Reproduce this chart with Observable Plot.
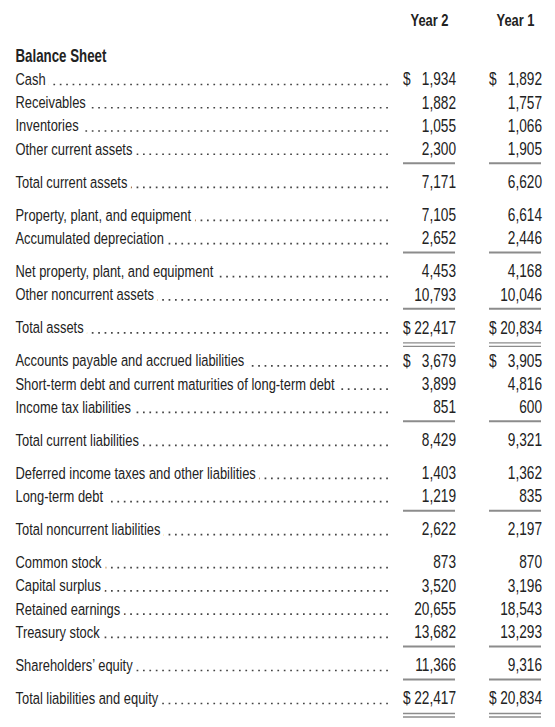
<!DOCTYPE html>
<html>
<head>
<meta charset="utf-8">
<script src="https://cdn.jsdelivr.net/npm/d3@7"></script>
<script src="https://cdn.jsdelivr.net/npm/@observablehq/plot@0.6"></script>
<style>
  html, body { margin: 0; padding: 0; background: #fff; }
  #chart svg { display: block; }
</style>
</head>
<body>
<div id="chart"></div>
<script>
// ---- Data -------------------------------------------------------------
const columns = ["Year 2", "Year 1"];
const sectionTitle = "Balance Sheet";
const labels = [
  "Cash",
  "Receivables",
  "Inventories",
  "Other current assets",
  "Total current assets",
  "Property, plant, and equipment",
  "Accumulated depreciation",
  "Net property, plant, and equipment",
  "Other noncurrent assets",
  "Total assets",
  "Accounts payable and accrued liabilities",
  "Short-term debt and current maturities of long-term debt",
  "Income tax liabilities",
  "Total current liabilities",
  "Deferred income taxes and other liabilities",
  "Long-term debt",
  "Total noncurrent liabilities",
  "Common stock",
  "Capital surplus",
  "Retained earnings",
  "Treasury stock",
  "Shareholders\u2019 equity",
  "Total liabilities and equity"
];
const year2 = [1934, 1882, 1055, 2300, 7171, 7105, 2652, 4453, 10793, 22417,
               3679, 3899, 851, 8429, 1403, 1219, 2622, 873, 3520, 20655, 13682, 11366, 22417];
const year1 = [1892, 1757, 1066, 1905, 6620, 6614, 2446, 4168, 10046, 20834,
               3905, 4816, 600, 9321, 1362, 835, 2197, 870, 3196, 18543, 13293, 9316, 20834];
// structure of the statement
const dollarRows = ["Cash", "Total assets", "Accounts payable and accrued liabilities", "Total liabilities and equity"];
const underlinedRows = ["Other current assets", "Accumulated depreciation", "Other noncurrent assets",
  "Income tax liabilities", "Long-term debt", "Treasury stock", "Shareholders\u2019 equity"];
const doubleUnderlinedRows = ["Total assets", "Total liabilities and equity"];
const groupStartRows = ["Total current assets", "Property, plant, and equipment", "Net property, plant, and equipment",
  "Total assets", "Accounts payable and accrued liabilities", "Total current liabilities",
  "Deferred income taxes and other liabilities", "Total noncurrent liabilities", "Common stock",
  "Shareholders\u2019 equity", "Total liabilities and equity"];

// ---- Layout (row units) ------------------------------------------------
const GAP = 1.42;          // spacing before a new group, in row units
const TITLE_POS = -1;      // "Balance Sheet" one row above the first line
const HEADER_POS = -2.55;  // column headers
let p = 0;
const rows = labels.map((label, i) => {
  if (i > 0) p += groupStartRows.includes(label) ? GAP : 1;
  return {label, pos: p};
});
const lastPos = p;
const cells = rows.flatMap((r, i) => [
  {label: r.label, pos: r.pos, col: columns[0], value: year2[i]},
  {label: r.label, pos: r.pos, col: columns[1], value: year1[i]}
]);

const FONT = "'Liberation Sans', Arial, sans-serif";
const NARROW = 0.76;       // horizontal condensing of the type
const ink = "#222";
const ruleColor = "#8c8c8c";
const fmt = d3.format(",");

const chart = Plot.plot({
  width: 555,
  height: 727,
  marginLeft: 15,
  marginRight: 166,
  marginTop: 0,
  marginBottom: 0,
  x: {type: "band", domain: columns, range: [402, 542], paddingInner: 0.39, paddingOuter: 0, axis: null},
  y: {type: "linear", domain: [0, lastPos], range: [79, 698], axis: null},
  style: {fontFamily: FONT, background: "#fff", color: ink, overflow: "visible"},
  marks: [
    // column headers
    Plot.text(columns, {x: d => d, y: () => HEADER_POS, text: d => d, fontWeight: "bold", fontSize: 17, fill: ink}),
    // top rule
    Plot.ruleY([HEADER_POS], {y: d => d, dy: 16, x2: () => columns[1], stroke: "#7a7a7a", strokeWidth: 2.4}),
    // section title
    Plot.text([sectionTitle], {y: () => TITLE_POS, text: d => d, frameAnchor: "left", textAnchor: "start",
      fontWeight: "bold", fontSize: 17.5, fill: ink}),
    // dot leaders
    Plot.ruleY(rows, {y: "pos", dy: 5, stroke: "#444", strokeWidth: 1.7, strokeDasharray: "1.7,4.7"}),
    // row labels (white halo hides leaders behind the text)
    Plot.text(rows, {y: "pos", text: "label", frameAnchor: "left", textAnchor: "start", fontSize: 17,
      fill: ink, stroke: "#fff", strokeWidth: 11, paintOrder: "stroke", strokeLinejoin: "round"}),
    // values
    Plot.text(cells, {x: "col", y: "pos", text: d => fmt(d.value), textAnchor: "end", dx: 26.5, fontSize: 18, fill: ink}),
    // dollar signs
    Plot.text(cells.filter(d => dollarRows.includes(d.label)), {x: "col", y: "pos", text: () => "$",
      textAnchor: "start", dx: -26.5, fontSize: 18, fill: ink}),
    // single underlines
    Plot.ruleY(cells.filter(d => underlinedRows.includes(d.label)), {x1: "col", x2: "col", y: "pos", dy: 14,
      stroke: ruleColor, strokeWidth: 2}),
    // double underlines
    Plot.ruleY(cells.filter(d => doubleUnderlinedRows.includes(d.label)), {x1: "col", x2: "col", y: "pos", dy: 15,
      stroke: ruleColor, strokeWidth: 1.3}),
    Plot.ruleY(cells.filter(d => doubleUnderlinedRows.includes(d.label)), {x1: "col", x2: "col", y: "pos", dy: 18.5,
      stroke: ruleColor, strokeWidth: 1.3})
  ]
});

// condense the type horizontally around each text's own anchor
chart.querySelectorAll("text").forEach(t => {
  const tr = t.getAttribute("transform");
  if (tr) {
    t.setAttribute("transform", tr + ` scale(${NARROW},1)`);
  } else {
    const x = +t.getAttribute("x") || 0, y = +t.getAttribute("y") || 0;
    t.setAttribute("x", 0);
    t.setAttribute("y", 0);
    t.setAttribute("transform", `translate(${x},${y}) scale(${NARROW},1)`);
  }
});
document.getElementById("chart").appendChild(chart);
</script>
</body>
</html>
